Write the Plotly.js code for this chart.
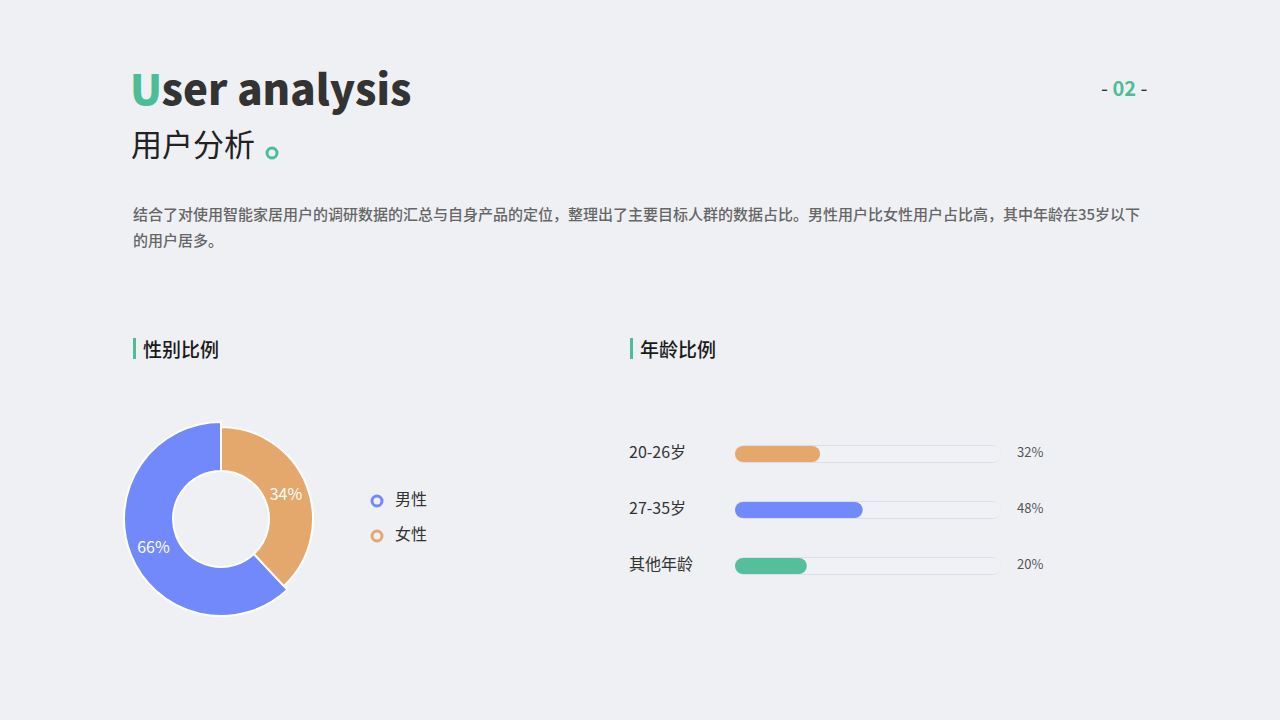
<!DOCTYPE html>
<html>
<head>
<meta charset="utf-8">
<script src="https://cdn.plot.ly/plotly-3.0.1.min.js"></script>
<style>
  html, body { margin: 0; padding: 0; background: #eff0f4; }
  #chart { width: 1280px; height: 720px; }
</style>
</head>
<body>
<div id="chart"></div>
<script>
// gender split
const genders = ['男性', '女性'];
const genderShares = [62, 38];          // slice sizes as drawn
const genderLabels = ['66%', '34%'];    // labels as printed
const genderColors = ['#7289fb', '#e4a86c'];

// age split
const ageGroups = ['20-26岁', '27-35岁', '其他年龄'];
const ageFill = [32, 48, 27];
const ageLabels = ['32%', '48%', '20%'];
const ageColors = ['#e4a86c', '#7289fb', '#55bf9c'];
const ageFull = [100, 100, 100];

const W = 1280, H = 720;
const px = x => x / W;
const py = y => 1 - y / H;
const FONT = '"Noto Sans CJK SC", "Noto Sans", sans-serif';
const GREEN = '#4dbd98';
const CLEAR = 'rgba(0,0,0,0)';

// female slice starts at 12 o'clock, male fills the rest
const total = genderShares.reduce((a, b) => a + b, 0);
const startAngle = 360 * genderShares[1] / total;

// donut: outer ring for male slightly larger than female
function donut(r, show) {
    const cx = 221, cy = 519;
    return {
        type: 'pie',
        values: genderShares,
        labels: genders,
        sort: false,
        direction: 'clockwise',
        rotation: startAngle,
        hole: 48 / r,
        domain: {x: [px(cx - r), px(cx + r)], y: [py(cy + r), py(cy - r)]},
        marker: {
            colors: genderColors.map((c, i) => i === show ? c : CLEAR),
            line: {color: genderColors.map((c, i) => i === show ? '#ffffff' : CLEAR), width: 2}
        },
        text: genderLabels.map((t, i) => i === show ? t : ''),
        textinfo: 'text',
        textposition: 'inside',
        insidetextorientation: 'horizontal',
        textfont: {family: FONT, size: 16, color: '#ffffff'},
        hoverinfo: 'skip',
        showlegend: false
    };
}

// an explicit base makes plotly round all four corners -> pill shape
function pill(vals, color, h) {
    const w = h / 56;
    return {
        type: 'bar', orientation: 'h', y: ageGroups, x: vals, base: vals.map(() => 0),
        xaxis: 'x2', yaxis: 'y2', width: w, offset: -w / 2,
        marker: {color: color, cornerradius: h / 2},
        hoverinfo: 'skip', showlegend: false
    };
}

const data = [
    donut(97, 0),
    donut(92, 1),
    // legend dots
    {
        type: 'scatter', mode: 'markers+text',
        x: [0, 0], y: [1, 0],
        xaxis: 'x5', yaxis: 'y5',
        text: genders.map(g => '\u00a0\u00a0\u00a0' + g),
        textposition: 'middle right',
        textfont: {family: FONT, size: 16, color: '#333333'},
        marker: {symbol: 'circle-open', size: 10, color: genderColors, line: {width: 3, color: genderColors}},
        cliponaxis: false, hoverinfo: 'skip', showlegend: false
    },
    // tracks: thin rim then inner fill
    pill(ageFull, '#dcdde9', 18),
    pill(ageFull, '#f0f1f5', 16),
    // fills
    pill(ageFill, ageColors, 16),
    // age names
    {
        type: 'scatter', mode: 'text',
        x: ageGroups.map(() => 0), y: ageGroups,
        xaxis: 'x3', yaxis: 'y2',
        text: ageGroups, textposition: 'middle right',
        textfont: {family: FONT, size: 16, color: '#333333'},
        cliponaxis: false, hoverinfo: 'skip', showlegend: false
    },
    // percent labels
    {
        type: 'scatter', mode: 'text',
        x: ageGroups.map(() => 0), y: ageGroups,
        xaxis: 'x4', yaxis: 'y2',
        text: ageLabels, textposition: 'middle right',
        textfont: {family: FONT, size: 13, color: '#555555'},
        cliponaxis: false, hoverinfo: 'skip', showlegend: false
    }
];

const hidden = {visible: false, fixedrange: true};
const barY = [py(594), py(426)];

const layout = {
    width: W, height: H,
    margin: {l: 0, r: 0, t: 0, b: 0},
    paper_bgcolor: '#eff0f4',
    plot_bgcolor: 'rgba(0,0,0,0)',
    font: {family: FONT},
    barmode: 'group',
    xaxis2: {...hidden, domain: [px(735), px(1001)], range: [0, 100], anchor: 'y2'},
    yaxis2: {...hidden, domain: barY, range: [2.5, -0.5], type: 'category', anchor: 'x2'},
    xaxis3: {...hidden, domain: [px(629), px(735)], range: [0, 1], anchor: 'y2'},
    xaxis4: {...hidden, domain: [px(1017), px(1100)], range: [0, 1], anchor: 'y2'},
    xaxis5: {...hidden, domain: [px(377), px(450)], range: [0, 1], anchor: 'y5'},
    yaxis5: {...hidden, domain: [py(536), py(501)], range: [0, 1], anchor: 'x5'},
    shapes: [
        {type: 'circle', xref: 'paper', yref: 'paper', x0: px(267), x1: px(277), y0: py(158), y1: py(148),
         line: {color: GREEN, width: 3}},
        {type: 'rect', xref: 'paper', yref: 'paper', x0: px(133), x1: px(136), y0: py(359), y1: py(338),
         fillcolor: GREEN, line: {width: 0}},
        {type: 'rect', xref: 'paper', yref: 'paper', x0: px(630), x1: px(633), y0: py(359), y1: py(338),
         fillcolor: GREEN, line: {width: 0}}
    ],
    annotations: [
        {text: '<span style="color:' + GREEN + '">U</span>ser analysis', x: px(128), y: py(86),
         font: {size: 42, color: '#333333', weight: 900}},
        {text: '用户分析', x: px(129), y: py(143), font: {size: 31, color: '#222222'}},
        {text: '- <b><span style="color:' + GREEN + '">02</span></b> -', x: px(1150), y: py(87), xanchor: 'right',
         font: {size: 20, color: '#333333'}},
        {text: '结合了对使用智能家居用户的调研数据的汇总与自身产品的定位，整理出了主要目标人群的数据占比。男性用户比女性用户占比高，其中年龄在35岁以下',
         x: px(131), y: py(213), font: {size: 15, color: '#666666', weight: 500}},
        {text: '的用户居多。', x: px(131), y: py(240), font: {size: 15, color: '#666666', weight: 500}},
        {text: '性别比例', x: px(141), y: py(348), font: {size: 19, color: '#1a1a1a', weight: 500}},
        {text: '年龄比例', x: px(638), y: py(348), font: {size: 19, color: '#1a1a1a', weight: 500}}
    ].map(a => ({xref: 'paper', yref: 'paper', xanchor: 'left', yanchor: 'middle', showarrow: false, ...a,
                 font: {family: FONT, ...a.font}}))
};

Plotly.newPlot('chart', data, layout, {displayModeBar: false, staticPlot: true});
</script>
</body>
</html>
